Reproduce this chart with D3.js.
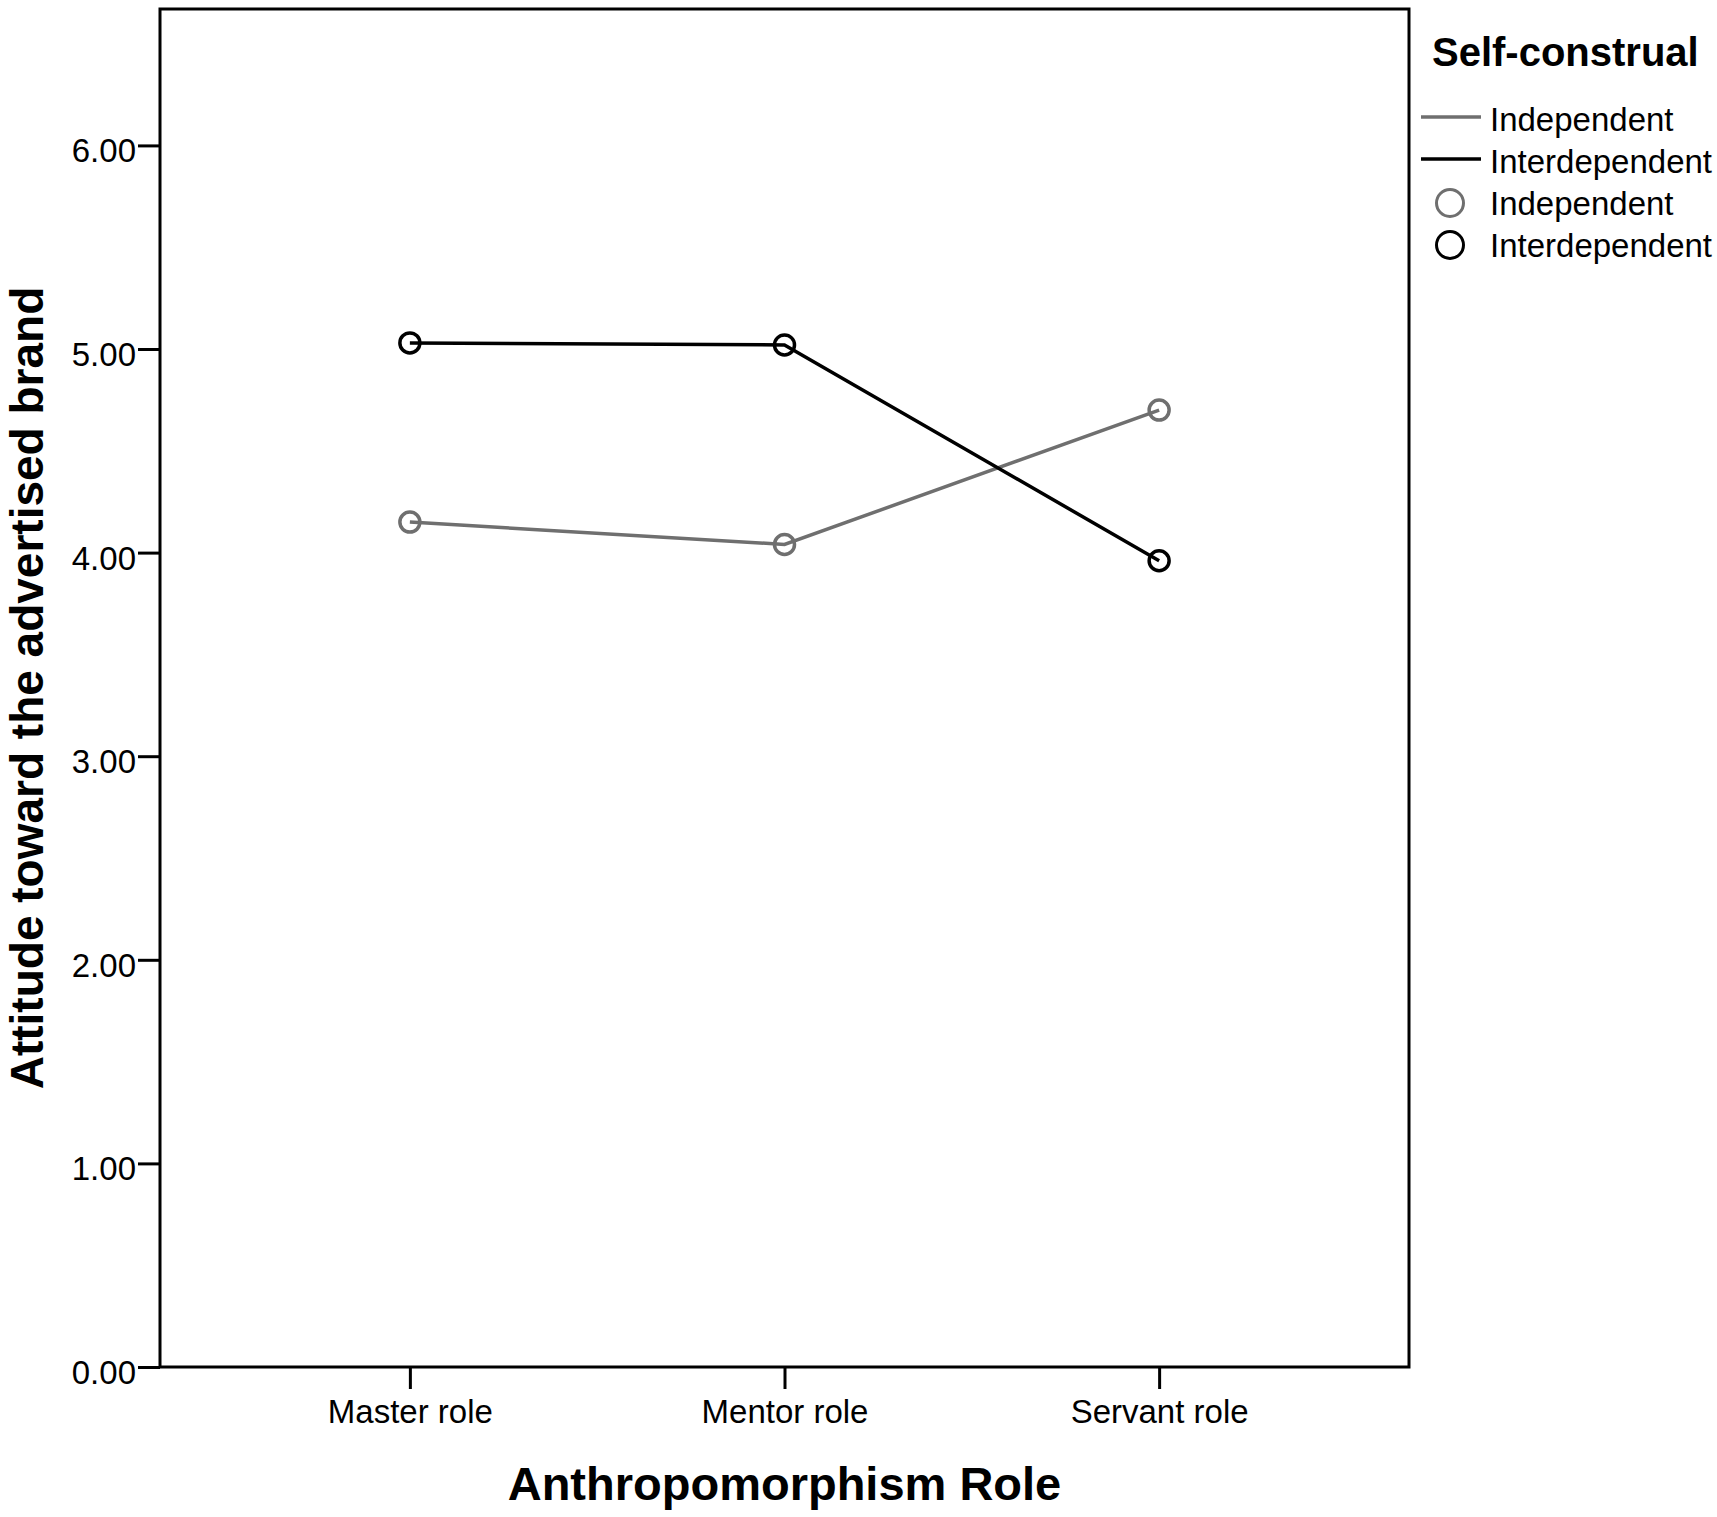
<!DOCTYPE html>
<html>
<head>
<meta charset="utf-8">
<script src="https://cdn.jsdelivr.net/npm/d3@7"></script>
<style>
  html, body { margin: 0; padding: 0; background: #fff; }
  svg { display: block; font-family: "Liberation Sans", Arial, sans-serif; }
</style>
</head>
<body>
<div id="chart"></div>
<script>
// ---- data ----
const roles = ["Master role", "Mentor role", "Servant role"];
const independentMeans = [4.15, 4.04, 4.70];
const interdependentMeans = [5.03, 5.02, 3.96];
const seriesNames = ["Independent", "Interdependent"];
const seriesColors = ["#6f6f6f", "#000000"];
const yTickValues = [0, 1, 2, 3, 4, 5, 6];

const W = 1717, H = 1517;
const frame = { left: 160, top: 9, right: 1409, bottom: 1367 };

const svg = d3.select("#chart").append("svg")
    .attr("width", W)
    .attr("height", H);

const x = d3.scalePoint()
    .domain(roles)
    .range([frame.left, frame.right])
    .padding(0.667);

const y = d3.scaleLinear()
    .domain([0, 6.67])
    .range([frame.bottom, frame.top]);

// frame box
svg.append("rect")
    .attr("x", frame.left)
    .attr("y", frame.top)
    .attr("width", frame.right - frame.left)
    .attr("height", frame.bottom - frame.top)
    .attr("fill", "none")
    .attr("stroke", "#000")
    .attr("stroke-width", 3);

// y axis
const yAxis = svg.append("g")
    .attr("transform", `translate(${frame.left},0)`)
    .call(d3.axisLeft(y).tickValues(yTickValues).tickSize(22).tickPadding(2).tickFormat(d3.format(".2f")));
yAxis.select(".domain").remove();
yAxis.selectAll(".tick line").attr("stroke", "#000").attr("stroke-width", 3);
yAxis.selectAll(".tick text")
    .attr("fill", "#000")
    .attr("dy", "0.5em")
    .style("font-size", "33px")
    .style("font-family", "'Liberation Sans', Arial, sans-serif");

// x axis
const xAxis = svg.append("g")
    .attr("transform", `translate(0,${frame.bottom})`)
    .call(d3.axisBottom(x).tickSize(22).tickPadding(11));
xAxis.select(".domain").remove();
xAxis.selectAll(".tick line").attr("stroke", "#000").attr("stroke-width", 3);
xAxis.selectAll(".tick text")
    .attr("fill", "#000")
    .style("font-size", "33px")
    .style("font-family", "'Liberation Sans', Arial, sans-serif");

// axis titles
svg.append("text")
    .attr("x", (frame.left + frame.right) / 2)
    .attr("y", 1500)
    .attr("text-anchor", "middle")
    .style("font-size", "47px")
    .style("font-weight", "bold")
    .text("Anthropomorphism Role");

svg.append("text")
    .attr("transform", `translate(43,${(frame.top + frame.bottom) / 2}) rotate(-90)`)
    .attr("text-anchor", "middle")
    .style("font-size", "46px")
    .style("font-weight", "bold")
    .text("Attitude toward the advertised brand");

// lines + markers
const series = [independentMeans, interdependentMeans].map((vals, i) => ({
    name: seriesNames[i],
    color: seriesColors[i],
    points: roles.map((r, j) => ({ role: r, value: vals[j] }))
}));

const line = d3.line()
    .x(d => x(d.role))
    .y(d => y(d.value));

series.forEach(s => {
    svg.append("path")
        .datum(s.points)
        .attr("d", line)
        .attr("fill", "none")
        .attr("stroke", s.color)
        .attr("stroke-width", 3.5);

    svg.selectAll(null)
        .data(s.points)
        .enter().append("circle")
        .attr("cx", d => x(d.role))
        .attr("cy", d => y(d.value))
        .attr("r", 10)
        .attr("fill", "none")
        .attr("stroke", s.color)
        .attr("stroke-width", 3.5);
});

// legend
const legend = svg.append("g");
legend.append("text")
    .attr("x", 1432)
    .attr("y", 66)
    .style("font-size", "40px")
    .style("font-weight", "bold")
    .text("Self-construal");

const rowY = [119, 161, 203, 245];
const legendItems = [
    { kind: "line", name: seriesNames[0], color: seriesColors[0] },
    { kind: "line", name: seriesNames[1], color: seriesColors[1] },
    { kind: "circle", name: seriesNames[0], color: seriesColors[0] },
    { kind: "circle", name: seriesNames[1], color: seriesColors[1] }
];

legendItems.forEach((item, i) => {
    const g = legend.append("g").attr("transform", `translate(0,${rowY[i]})`);
    if (item.kind === "line") {
        g.append("line")
            .attr("x1", 1421).attr("x2", 1481)
            .attr("y1", -2).attr("y2", -2)
            .attr("stroke", item.color)
            .attr("stroke-width", 3.5);
    } else {
        g.append("circle")
            .attr("cx", 1450).attr("cy", 0)
            .attr("r", 13.5)
            .attr("fill", "none")
            .attr("stroke", item.color)
            .attr("stroke-width", 3);
    }
    g.append("text")
        .attr("x", 1490)
        .attr("y", 0)
        .attr("dy", "0.36em")
        .style("font-size", "33px")
        .text(item.name);
});
</script>
</body>
</html>
